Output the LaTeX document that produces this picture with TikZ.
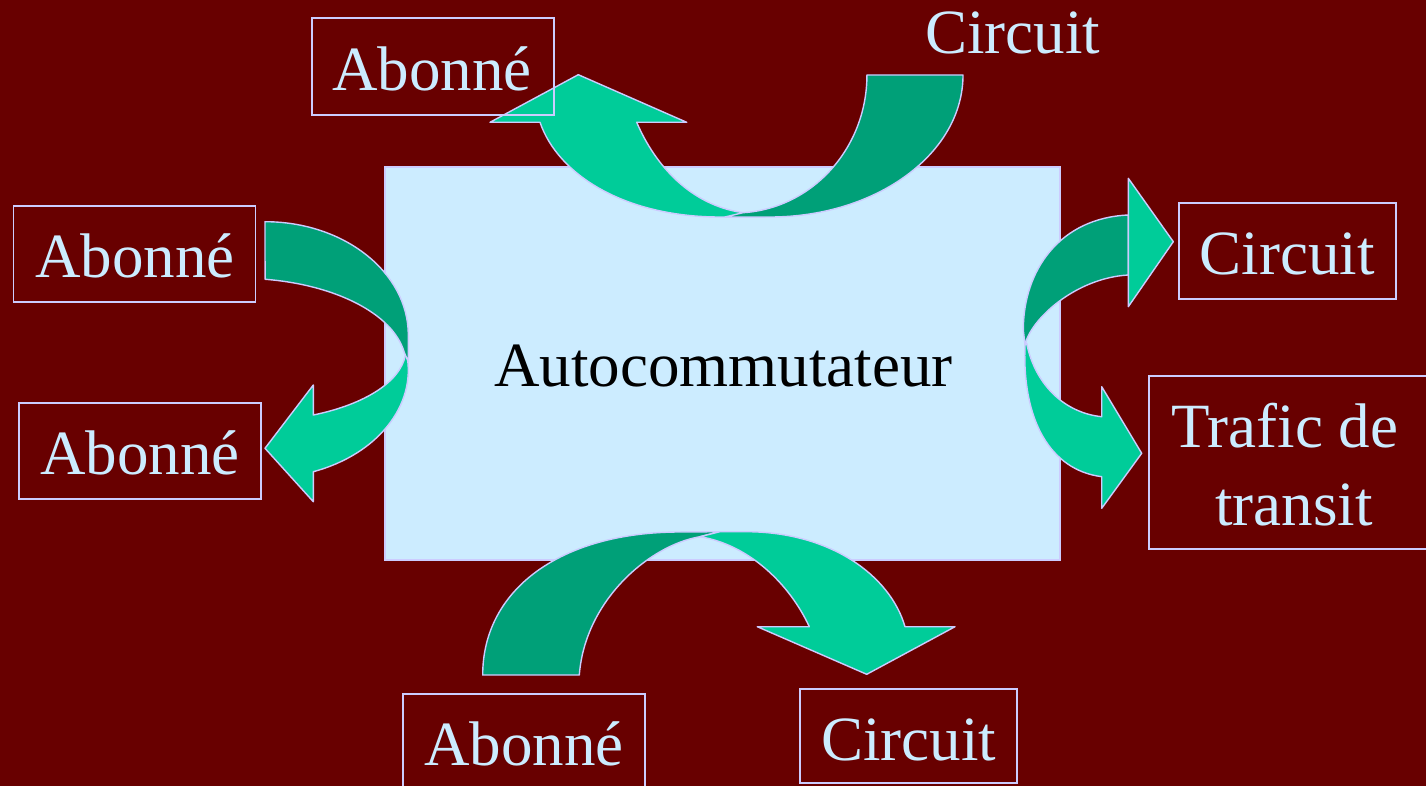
\documentclass[tikz,border=0pt]{standalone}
\usepackage{fontspec}
\setmainfont{Liberation Serif}
\definecolor{bgred}{RGB}{104,0,0}
\definecolor{boxblue}{RGB}{204,236,255}
\definecolor{lav}{RGB}{204,204,255}
\definecolor{lightgreen}{RGB}{0,204,153}
\definecolor{darkgreen}{RGB}{0,160,120}
\definecolor{txtblue}{RGB}{204,236,255}
\tikzset{
  lblbox/.style={draw=lav, line width=1.6pt, inner sep=0pt, rectangle},
  lbltxt/.style={text=txtblue, font=\fontsize{63}{70}\selectfont, inner sep=0pt, anchor=base},
  mainbox/.style={fill=boxblue, draw=lav, line width=1.6pt, inner sep=0pt, rectangle},
  front/.style={fill=lightgreen, draw=lav, line width=1.4pt, line join=round},
  back/.style={fill=darkgreen, draw=lav, line width=1.4pt, line join=round}
}
\begin{document}
\begin{tikzpicture}[x=1pt,y=-1pt]
\useasboundingbox (0,0) rectangle (1426,786);
\fill[bgred] (0,0) rectangle (1426,786);

% main box
\node[mainbox, minimum width=675pt, minimum height=393pt] (auto) at (722.5,363.5) {};
\node[inner sep=0pt, anchor=base, font=\fontsize{63}{70}\selectfont, text=black] (autotxt) at (723.4,386) {Autocommutateur};

% top arrow
\path[front] (540,122.3) -- (490,122.3) -- (578.3,74.7) -- (686.7,122.3) -- (636.7,122.3)
  .. controls (655,165) and (690,205) .. (743,212.7) -- (765,217) -- (720,217)
  .. controls (625,217) and (558,175) .. (540,122.3) -- cycle;
\path[back] (867,75) -- (963,75) arc[start angle=0,end angle=90,x radius=193,y radius=142]
  -- (725,217) -- (743,212.7) arc[start angle=86.5,end angle=0,x radius=132,y radius=138] -- cycle;

% left arrow
\path[front] (406.9,355) arc[start angle=-8,end angle=70.3,x radius=143.3,y radius=108]
  -- (313.3,501.7) -- (265,448.3) -- (313.3,385) -- (313.3,415)
  arc[start angle=66,end angle=5,x radius=156,y radius=72] -- cycle;
\path[back] (265,221.7) arc[start angle=-90,end angle=0,x radius=143.3,y radius=113.3]
  -- (408.3,362) -- (404,351.7) arc[start angle=-8.8,end angle=-81.3,x radius=166,y radius=86.7] -- cycle;

% right arrows
\path[back] (1128.3,215) .. controls (1060,218) and (1023.3,270) .. (1023.3,330) -- (1025,345)
  .. controls (1030,320) and (1075,278) .. (1128.3,275) -- cycle;
\path[front] (1128.3,178.3) -- (1173.3,241.7) -- (1128.3,306.7) -- cycle;
\path[front] (1025,345) .. controls (1022,420) and (1050,470) .. (1101.7,476.7)
  -- (1101.7,508.3) -- (1141.7,453.3) -- (1101.7,386.7) -- (1101.7,416.7)
  .. controls (1065,413) and (1035,385) .. (1026.7,343.3) -- cycle;

% bottom arrow
\path[back] (482.7,675) .. controls (482.7,590) and (560,532) .. (680,532) -- (720,531.7) -- (700,536.7)
  .. controls (650,545) and (585,600) .. (579.3,675) -- cycle;
\path[front] (700,536.7) -- (720,531.7) -- (746.7,531.7) .. controls (830,532) and (890,575) .. (905,626.7)
  -- (955,626.7) -- (866.7,674.3) -- (757.3,626.7) -- (809.3,626.7)
  .. controls (790,585) and (750,545) .. (700,536.7) -- cycle;

% label boxes
\node[lblbox, minimum width=242pt, minimum height=97pt] (ab1) at (433,66.5) {};
\node[lbltxt] (ab1t) at (432,91) {Abonné};
\node[lbltxt] (ci1t) at (1012.5,53.3) {Circuit};
\node[lblbox, minimum width=242pt, minimum height=96pt] (ab2) at (134.5,253.8) {};
\node[lbltxt] (ab2t) at (135,277.3) {Abonné};
\node[lblbox, minimum width=242pt, minimum height=96pt] (ab3) at (139.8,451.2) {};
\node[lbltxt] (ab3t) at (140,474.3) {Abonné};
\node[lblbox, minimum width=217pt, minimum height=96pt] (ci2) at (1287.5,251.2) {};
\node[lbltxt] (ci2t) at (1287,275) {Circuit};
\node[lblbox, minimum width=288pt, minimum height=173pt] (traf) at (1293,462.5) {};
\node[lbltxt] (traf1) at (1285,447.7) {Trafic de};
\node[lbltxt] (traf2) at (1294,525) {transit};
\node[lblbox, minimum width=242pt, minimum height=97pt] (ab4) at (524,742.5) {};
\node[lbltxt] (ab4t) at (524,765) {Abonné};
\node[lblbox, minimum width=217pt, minimum height=94pt] (ci3) at (908.5,736) {};
\node[lbltxt] (ci3t) at (908.5,760) {Circuit};
\end{tikzpicture}
\end{document}
